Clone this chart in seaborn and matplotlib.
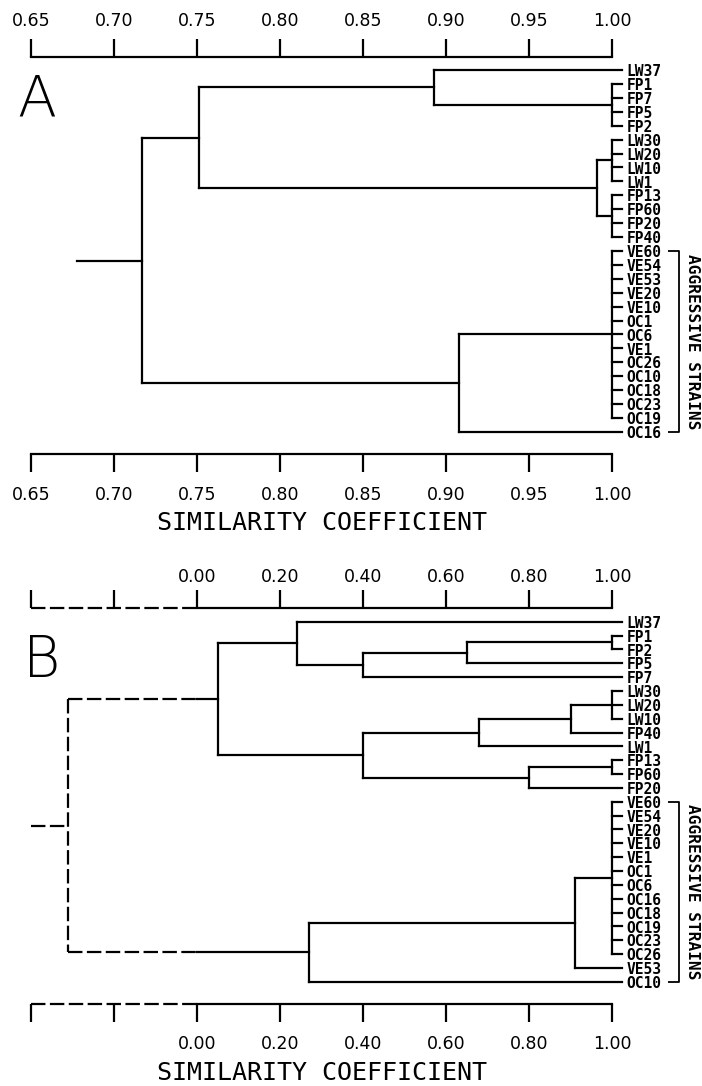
import numpy as np
import pandas as pd
import matplotlib
matplotlib.use("Agg")
import matplotlib.pyplot as plt
import seaborn as sns

# ---------------- data: panel A ----------------
A_leaves = ["LW37", "FP1", "FP7", "FP5", "FP2", "LW30", "LW20", "LW10", "LW1",
            "FP13", "FP60", "FP20", "FP40", "VE60", "VE54", "VE53", "VE20", "VE10",
            "OC1", "OC6", "VE1", "OC26", "OC10", "OC18", "OC23", "OC19", "OC16"]
A_merge_names = ["a1", "a2", "a3", "a4", "a5", "a6", "a7", "a8", "a9"]
A_merge_members = [["FP1", "FP7", "FP5", "FP2"],
                   ["LW37", "a1"],
                   ["LW30", "LW20", "LW10", "LW1"],
                   ["FP13", "FP60", "FP20", "FP40"],
                   ["a3", "a4"],
                   ["a2", "a5"],
                   ["VE60", "VE54", "VE53", "VE20", "VE10", "OC1", "OC6", "VE1",
                    "OC26", "OC10", "OC18", "OC23", "OC19"],
                   ["a7", "OC16"],
                   ["a6", "a8"]]
A_merge_sim = [1.00, 0.893, 1.00, 1.00, 0.991, 0.751, 1.00, 0.908, 0.717]
A_root_start = 0.678
A_ticks = [0.65, 0.70, 0.75, 0.80, 0.85, 0.90, 0.95, 1.00]
A_ticklabels = ["0.65", "0.70", "0.75", "0.80", "0.85", "0.90", "0.95", "1.00"]
A_group = ["VE60", "OC16"]

# ---------------- data: panel B ----------------
B_leaves = ["LW37", "FP1", "FP2", "FP5", "FP7", "LW30", "LW20", "LW10", "FP40",
            "LW1", "FP13", "FP60", "FP20", "VE60", "VE54", "VE20", "VE10", "VE1",
            "OC1", "OC6", "OC16", "OC18", "OC19", "OC23", "OC26", "VE53", "OC10"]
B_merge_names = ["b1", "b2", "b3", "b4", "b5", "b6", "b7", "b8", "b9", "b10",
                 "b11", "b12", "b13", "b14", "b15"]
B_merge_members = [["FP1", "FP2"],
                   ["b1", "FP5"],
                   ["b2", "FP7"],
                   ["LW37", "b3"],
                   ["LW30", "LW20", "LW10"],
                   ["b5", "FP40"],
                   ["b6", "LW1"],
                   ["FP13", "FP60"],
                   ["b8", "FP20"],
                   ["b7", "b9"],
                   ["b4", "b10"],
                   ["VE60", "VE54", "VE20", "VE10", "VE1", "OC1", "OC6", "OC16",
                    "OC18", "OC19", "OC23", "OC26"],
                   ["b12", "VE53"],
                   ["b13", "OC10"],
                   ["b11", "b14"]]
B_merge_sim = [1.00, 0.65, 0.40, 0.24, 1.00, 0.90, 0.68, 1.00, 0.80, 0.40,
               0.05, 1.00, 0.91, 0.27, -0.31]
B_root_start = -0.40
B_ticks = [-0.40, -0.20, 0.00, 0.20, 0.40, 0.60, 0.80, 1.00]
B_ticklabels = ["", "", "0.00", "0.20", "0.40", "0.60", "0.80", "1.00"]
B_group = ["VE60", "OC10"]

xlabel_text = "SIMILARITY COEFFICIENT"
group_text = "AGGRESSIVE STRAINS"

# ---------------- style ----------------
sns.set_theme(style="white")
plt.rcParams['font.family'] = ['DejaVu Sans']
plt.rcParams['axes.edgecolor'] = 'black'
plt.rcParams['axes.linewidth'] = 1.6
plt.rcParams['xtick.color'] = 'black'
plt.rcParams['xtick.labelcolor'] = 'black'

LW = 1.6
DASH = (0, (6.5, 2.0))
W, H = 702, 1086
fig = plt.figure(figsize=(W / 100, H / 100), dpi=100)
fig.patch.set_facecolor('white')


def px_axes(left, right, top, bottom):
    return fig.add_axes([left / W, 1 - bottom / H, (right - left) / W, (bottom - top) / H])


def draw_tree(ax, leaves, names, members, sims, root_start, leaf_end, dash_below=None):
    pos = {n: (leaf_end, i) for i, n in enumerate(leaves)}
    solid, dashed = [], []

    def add(x0, y0, x1, y1):
        if dash_below is None:
            solid.append((x0, y0, x1, y1))
            return
        if x0 == x1:
            (dashed if x0 < dash_below else solid).append((x0, y0, x1, y1))
            return
        lo, hi = sorted([x0, x1])
        if hi <= dash_below:
            dashed.append((lo, y0, hi, y1))
        elif lo >= dash_below:
            solid.append((lo, y0, hi, y1))
        else:
            dashed.append((lo, y0, dash_below, y1))
            solid.append((dash_below, y0, hi, y1))

    for name, mem, s in zip(names, members, sims):
        ys = [pos[m][1] for m in mem]
        add(s, min(ys), s, max(ys))
        for m in mem:
            add(s, pos[m][1], pos[m][0], pos[m][1])
        pos[name] = (s, (ys[0] + ys[-1]) / 2.0)
    rx, ry = pos[names[-1]]
    add(root_start, ry, rx, ry)

    for segs, ls in [(solid, '-'), (dashed, DASH)]:
        if not segs:
            continue
        rows = []
        for k, (x0, y0, x1, y1) in enumerate(segs):
            rows.append((k, x0, y0))
            rows.append((k, x1, y1))
        df = pd.DataFrame(rows, columns=["seg", "x", "y"])
        sns.lineplot(data=df, x="x", y="y", units="seg", estimator=None, sort=False,
                     color="black", lw=LW, linestyle=ls, ax=ax, legend=False)
    for ln in ax.lines:
        ln.set_clip_on(False)
        ln.set_solid_capstyle('projecting')
    ax.set_xlabel("")
    ax.set_ylabel("")


def label_leaves(ax, leaves, group, xr):
    for i, n in enumerate(leaves):
        ax.annotate(n, xy=(xr, i), xytext=(10.6, -1.2), textcoords='offset points',
                    va='center', ha='left', fontsize=10.5, fontweight='bold',
                    family='DejaVu Sans Mono', color='black', annotation_clip=False)
    i0, i1 = leaves.index(group[0]), leaves.index(group[1])
    tr = ax.get_yaxis_transform()
    ax.plot([1.096, 1.115, 1.115, 1.096], [i0, i0, i1, i1], color='black', lw=1.3,
            transform=tr, clip_on=False, solid_capstyle='butt')
    ax.text(1.138, (i0 + i1) / 2.0, group_text, transform=tr, rotation=270,
            ha='center', va='center', fontsize=11.6, family='DejaVu Sans Mono',
            fontweight='bold', color='black')


def setup_axis(ax, ticks, labels, lim, ylim, pad_bottom, top_offset):
    ax.set_xlim(*lim)
    ax.set_ylim(*ylim)
    ax.set_xticks(ticks)
    ax.set_xticklabels(labels)
    ax.set_yticks([])
    for s in ['left', 'right']:
        ax.spines[s].set_visible(False)
    ax.tick_params(axis='x', direction='out', length=13, width=LW, labelsize=12.5,
                   top=True, bottom=True, labeltop=False, labelbottom=True,
                   pad=pad_bottom)
    # top tick labels
    for x, lab in zip(ticks, labels):
        if lab:
            ax.annotate(lab, xy=(x, 1.0), xycoords=('data', 'axes fraction'),
                        xytext=(0, top_offset), textcoords='offset points',
                        ha='center', va='baseline', fontsize=12.5, color='black',
                        annotation_clip=False)
    ax.set_facecolor('white')


# ---------------- panel A ----------------
axA = px_axes(31, 612, 57.3, 454)
draw_tree(axA, A_leaves, A_merge_names, A_merge_members, A_merge_sim,
          A_root_start, 1.0 + 10 * 0.35 / 581)
setup_axis(axA, A_ticks, A_ticklabels, (0.65, 1.00),
           ((454 - 70) / 13.92, (57.3 - 70) / 13.92), 10, 22.5)
label_leaves(axA, A_leaves, A_group, 1.0)

# ---------------- panel B ----------------
axB = px_axes(31, 612, 608, 1004)
draw_tree(axB, B_leaves, B_merge_names, B_merge_members, B_merge_sim,
          B_root_start, 1.0 + 10 * 1.4 / 581, dash_below=0.0)
ylB = ((1004 - 621.7) / 13.85, (608 - 621.7) / 13.85)
setup_axis(axB, B_ticks, B_ticklabels, (-0.40, 1.00), ylB, 9.2, 18.9)
axB.spines['top'].set_bounds(0.0, 1.0)
axB.spines['bottom'].set_bounds(0.0, 1.0)
for yv in ylB:
    axB.plot([-0.40, 0.0], [yv, yv], color='black', lw=LW, linestyle=DASH,
             clip_on=False)
label_leaves(axB, B_leaves, B_group, 1.0)

# ---------------- titles and panel letters ----------------
fig.text(322 / W, 1 - 523 / H, xlabel_text, ha='center', va='center',
         fontsize=18, family='DejaVu Sans Mono', color='black')
fig.text(322 / W, 1 - 1073 / H, xlabel_text, ha='center', va='center',
         fontsize=18, family='DejaVu Sans Mono', color='black')
fig.text(37 / W, 1 - 117 / H, "A", ha='center', va='baseline', fontsize=41,
         family='DejaVu Sans', fontweight='light', color='black')
fig.text(41.5 / W, 1 - 677 / H, "B", ha='center', va='baseline', fontsize=41,
         family='DejaVu Sans', fontweight='light', color='black')

fig.savefig("out.png", dpi=100, facecolor='white')
